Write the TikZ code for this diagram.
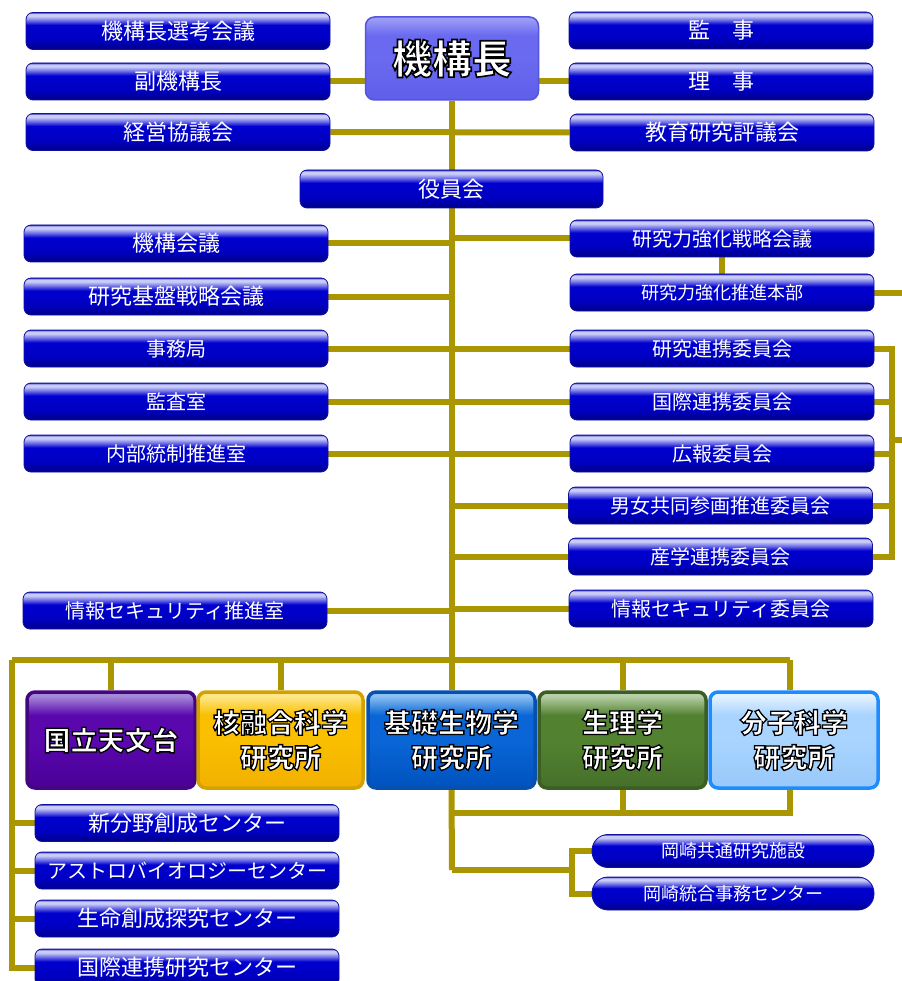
\documentclass[tikz,border=0pt]{standalone}
\usepackage{fontspec}
\setmainfont{Noto Sans CJK JP}
\usetikzlibrary{backgrounds}

\definecolor{lineC}{HTML}{AA9600}
\definecolor{bBot}{HTML}{000088}
\definecolor{bMid}{HTML}{0000C0}
\definecolor{bMain}{HTML}{0000D0}
\definecolor{bHiM}{HTML}{6A6AE6}
\definecolor{bHi}{HTML}{C8CCF6}
\definecolor{bTop}{HTML}{3030C8}
\definecolor{bBord}{HTML}{1010A0}

\definecolor{kkBot}{HTML}{5E5EEA}
\definecolor{kkMain}{HTML}{6A6AF0}
\definecolor{kkHi}{HTML}{9C9CF6}
\definecolor{kkBord}{HTML}{5454DC}

\definecolor{pBot}{HTML}{4A0096}
\definecolor{pMain}{HTML}{5A08AE}
\definecolor{pHi}{HTML}{A58AD8}
\definecolor{pBord}{HTML}{44067E}
\definecolor{gBot}{HTML}{F2B000}
\definecolor{gMain}{HTML}{F9BF00}
\definecolor{gHi}{HTML}{FFE78A}
\definecolor{gBord}{HTML}{D4A200}
\definecolor{kBot}{HTML}{0052BE}
\definecolor{kMain}{HTML}{0A66D6}
\definecolor{kHi}{HTML}{8CC0F2}
\definecolor{kBord}{HTML}{0650B0}
\definecolor{sBot}{HTML}{46702A}
\definecolor{sMain}{HTML}{528230}
\definecolor{sHi}{HTML}{B8D0A8}
\definecolor{sBord}{HTML}{3C5E24}
\definecolor{mBot}{HTML}{98C8FA}
\definecolor{mMain}{HTML}{A8D4FF}
\definecolor{mHi}{HTML}{E4F2FF}
\definecolor{mBord}{HTML}{1E8CFF}

\pgfdeclareverticalshading{blueglass}{100bp}{color(0bp)=(bBot); color(25bp)=(bBot); color(38bp)=(bMid); color(58bp)=(bMain); color(64bp)=(bHiM); color(70bp)=(bHi); color(73bp)=(bHi); color(75bp)=(bTop); color(100bp)=(bTop)}
\pgfdeclareverticalshading{kkS}{100bp}{color(0bp)=(kkBot); color(25bp)=(kkBot); color(50bp)=(kkMain); color(64bp)=(kkMain); color(74bp)=(kkHi); color(100bp)=(kkHi)}
\pgfdeclareverticalshading{purS}{100bp}{color(0bp)=(pBot); color(25bp)=(pBot); color(50bp)=(pMain); color(63bp)=(pMain); color(73bp)=(pHi); color(100bp)=(pHi)}
\pgfdeclareverticalshading{golS}{100bp}{color(0bp)=(gBot); color(25bp)=(gBot); color(50bp)=(gMain); color(63bp)=(gMain); color(73bp)=(gHi); color(100bp)=(gHi)}
\pgfdeclareverticalshading{kisS}{100bp}{color(0bp)=(kBot); color(25bp)=(kBot); color(50bp)=(kMain); color(63bp)=(kMain); color(73bp)=(kHi); color(100bp)=(kHi)}
\pgfdeclareverticalshading{greS}{100bp}{color(0bp)=(sBot); color(25bp)=(sBot); color(50bp)=(sMain); color(63bp)=(sMain); color(73bp)=(sHi); color(100bp)=(sHi)}
\pgfdeclareverticalshading{ligS}{100bp}{color(0bp)=(mBot); color(25bp)=(mBot); color(50bp)=(mMain); color(63bp)=(mMain); color(73bp)=(mHi); color(100bp)=(mHi)}

% white text with a black outline: PDF text render mode 2 (fill + stroke)
\newcommand{\strk}[2]{\special{pdf:literal direct 2 Tr 0 0 0 RG #1 w}#2\special{pdf:literal direct 0 Tr}}

\begin{document}
\begin{tikzpicture}[x=1pt,y=-1pt,
  conn/.style={draw=lineC, line width=6, line join=miter},
  bbox/.style={shade, shading=blueglass, draw=bBord, line width=0.8, rounded corners=7,
    minimum width=304, minimum height=37, inner sep=0, text=white, font=\fontsize{22}{26}\selectfont},
  f20/.style={font=\fontsize{20}{24}\selectfont},
  f18/.style={font=\fontsize{18}{22}\selectfont},
  pill/.style={bbox, rounded corners=16, minimum width=282, minimum height=33, f18},
  inst/.style={shade, line width=3.5, rounded corners=8, minimum width=167, minimum height=96,
    inner sep=0, text=white, align=center, font=\fontsize{27}{35}\selectfont\bfseries},
]
\useasboundingbox (0,0) rectangle (901,981);
\clip (0,0) rectangle (901,981);

% top
\node[bbox] (senko) at (178,31) {機構長選考会議};
\node[bbox] (fuku) at (178,81.5) {副機構長};
\node[bbox] (keiei) at (178,132) {経営協議会};
\node[shade, shading=kkS, draw=kkBord, line width=1.5, rounded corners=9, minimum width=173,
  minimum height=83, inner sep=0, text=white, font=\fontsize{40}{46}\selectfont\bfseries]
  (kikocho) at (452,58.5) {\strk{1.6}{機構長}};
\node[bbox] (kanji) at (721,30.5) {監　事};
\node[bbox] (riji) at (721,81.5) {理　事};
\node[bbox] (kyoiku) at (722,132.5) {教育研究評議会};
\node[bbox, minimum width=303, minimum height=38] (yakuin) at (451.5,189) {役員会};

% left column
\node[bbox] (kikokaigi) at (176,243.5) {機構会議};
\node[bbox] (kibankaigi) at (176,296.5) {研究基盤戦略会議};
\node[bbox, f20] (jimu) at (176,348.5) {事務局};
\node[bbox, f20] (kansa) at (176,401.5) {監査室};
\node[bbox, f20] (naibu) at (176,453.5) {内部統制推進室};
\node[bbox, f20] (johoL) at (175,610.5) {情報セキュリティ推進室};

% right column
\node[bbox, f20] (senryaku) at (722,238.5) {研究力強化戦略会議};
\node[bbox, f18] (honbu) at (722,292.5) {研究力強化推進本部};
\node[bbox, f20] (renkei) at (722,348.5) {研究連携委員会};
\node[bbox, f20] (kokusai) at (722,401.5) {国際連携委員会};
\node[bbox, f20] (koho) at (722,453.5) {広報委員会};
\node[bbox, f20] (danjo) at (720.5,505.5) {男女共同参画推進委員会};
\node[bbox, f20] (sangaku) at (720.5,556.5) {産学連携委員会};
\node[bbox, f20] (johoR) at (721,608.5) {情報セキュリティ委員会};

% institutes
\node[inst, shading=purS, draw=pBord, minimum width=168] (tenmon) at (111,740) {\strk{1.3}{国立天文台}};
\node[inst, shading=golS, draw=gBord, minimum width=165] (yugo) at (280.5,740) {\strk{1.3}{核融合科学\\研究所}};
\node[inst, shading=kisS, draw=kBord] (kiso) at (451.5,740) {\strk{1.3}{基礎生物学\\研究所}};
\node[inst, shading=greS, draw=sBord] (seiri) at (622.5,740) {\strk{1.3}{生理学\\研究所}};
\node[inst, shading=ligS, draw=mBord, minimum width=168] (bunshi) at (794,740) {\strk{1.3}{分子科学\\研究所}};

% centers
\node[bbox] (shinbunya) at (187,823) {新分野創成センター};
\node[bbox, f20] (astro) at (187,870.5) {アストロバイオロジーセンター};
\node[bbox] (seimei) at (187,918.5) {生命創成探究センター};
\node[bbox] (kokusaiC) at (187,967.5) {国際連携研究センター};

% okazaki
\node[pill] (oka1) at (733,851) {岡崎共通研究施設};
\node[pill] (oka2) at (733,893.5) {岡崎統合事務センター};

\begin{scope}[on background layer]
\fill[white] (0,0) rectangle (901,981);
\coordinate (barC) at (452,660);
\coordinate (barL) at (12,660);
\coordinate (barR) at (790,660);
\coordinate (brk) at (892,440);
\coordinate (brkEnd) at (910,440);
\coordinate (edgeR) at (910,292);
\coordinate (bb) at (452,813);
\coordinate (okaJ) at (452,870);
\coordinate (okaB) at (572,870);

\draw[conn] (kikocho.south) -- (barC);
\draw[conn] (fuku.east) -- (fuku.east -| kikocho.west);
\draw[conn] (riji.west) -- (riji.west -| kikocho.east);
\draw[conn] (keiei.east) -- (kyoiku.west);
\foreach \n in {kikokaigi,kibankaigi,jimu,kansa,naibu,johoL}
  \draw[conn] (\n.east) -- (\n.east -| barC);
\foreach \n in {senryaku,renkei,kokusai,koho,danjo,sangaku,johoR}
  \draw[conn] (\n.west) -- (\n.west -| barC);
\draw[conn] (senryaku.south) -- (honbu.north);
\draw[conn] (honbu.east) -- (honbu.east -| edgeR);
\draw[conn] (renkei.east) -- (renkei.east -| brk) -- (sangaku.east -| brk) -- (sangaku.east);
\foreach \n in {kokusai,koho,danjo}
  \draw[conn] (\n.east) -- (\n.east -| brk);
\draw[conn] (brk) -- (brkEnd);

\draw[conn] (barL) -- (barR);
\foreach \n in {tenmon,yugo,kiso,seiri}
  \draw[conn] (\n.north |- barC) -- (\n.north);
\draw[conn] (barR) -- (barR |- bunshi.north);
\draw[conn] (barL) -- (barL |- kokusaiC.west) -- (kokusaiC.west);
\foreach \n in {shinbunya,astro,seimei}
  \draw[conn] (\n.west -| barL) -- (\n.west);

\draw[conn] (kiso.south) -- (okaJ);
\draw[conn] (seiri.south) -- (seiri.south |- bb);
\draw[conn] (barR |- bunshi.south) -- (barR |- bb) -- (bb);
\draw[conn] (okaJ) -- (okaB);
\draw[conn] (oka1.west) -- (oka1.west -| okaB) -- (oka2.west -| okaB) -- (oka2.west);
\end{scope}
\end{tikzpicture}
\end{document}
